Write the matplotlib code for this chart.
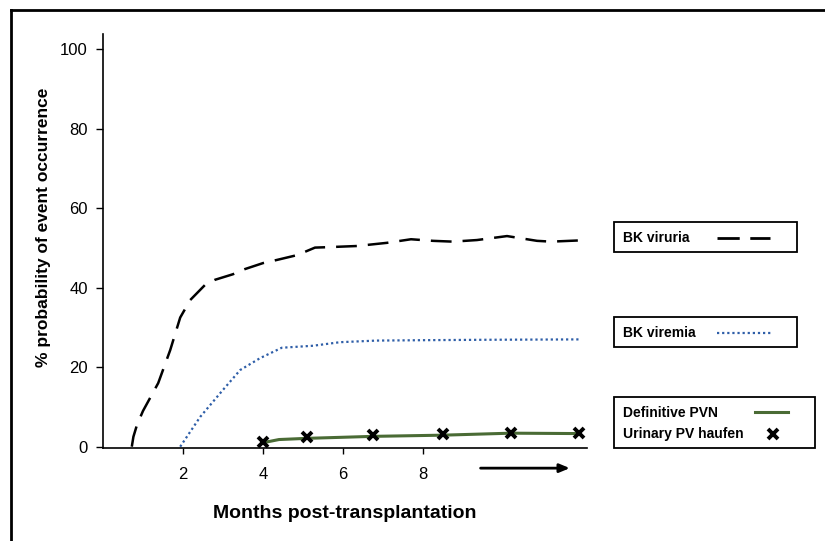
import matplotlib
matplotlib.use("Agg")
import matplotlib.pyplot as plt
from matplotlib.lines import Line2D
from matplotlib.patches import Rectangle

plt.rcParams["font.family"] = ["Liberation Sans", "DejaVu Sans"]

# BK viruria (dashed black)
viruria_x = [0.72, 0.76, 0.85, 1.0, 1.38, 1.68, 1.93, 2.18, 2.55, 2.8, 3.25, 3.55,
             4.0, 4.35, 4.85, 5.3, 5.6, 6.35, 7.1, 7.7, 8.25, 8.75, 9.35, 10.1,
             10.85, 11.2, 11.9]
viruria_y = [0.0, 2.5, 5.5, 9.0, 16.0, 24.3, 32.5, 36.9, 40.7, 42.0, 43.4, 44.7,
             46.2, 47.0, 48.2, 50.1, 50.2, 50.5, 51.3, 52.2, 51.8, 51.6, 52.0, 53.0,
             51.8, 51.6, 51.9]

# BK viremia (dotted blue)
viremia_x = [1.93, 2.43, 3.0, 3.43, 3.93, 4.47, 5.25, 5.93, 6.84, 8.0, 9.5, 11.93]
viremia_y = [0.0, 7.5, 14.3, 19.3, 22.3, 24.9, 25.4, 26.3, 26.7, 26.8, 26.9, 27.0]

# Definitive PVN (green line)
pvn_x = [4.0, 4.4, 5.1, 6.76, 8.5, 10.2, 11.9]
pvn_y = [1.0, 1.8, 2.1, 2.6, 2.9, 3.4, 3.3]

# Urinary PV haufen (x markers)
haufen_x = [4.0, 5.1, 6.76, 8.5, 10.2, 11.9]
haufen_y = [1.1, 2.4, 2.9, 3.1, 3.5, 3.5]

yticks = [0, 20, 40, 60, 80, 100]
xticks = [2, 4, 6, 8]

W, H = 825, 541
fig = plt.figure(figsize=(W / 100, H / 100), dpi=100)
ax = fig.add_axes([103 / W, 1 - 448 / H, (587 - 103) / W, (448 - 34) / H])

ax.plot(viruria_x, viruria_y, color="black", lw=1.8, ls=(0, (8.3, 4.4)))
ax.plot(viremia_x, viremia_y, color="#2e5ea8", lw=1.6, ls=(0, (1, 1.3)))
ax.plot(pvn_x, pvn_y, color="#4a6b35", lw=2.2)
ax.plot(haufen_x, haufen_y, ls="none", marker="x", color="black", ms=6.5, mew=2.8)

ax.set_xlim(0, 12.1)
ax.set_ylim(-0.33, 103.85)
ax.set_xticks(xticks)
ax.set_yticks(yticks)
ax.tick_params(axis="y", length=5, width=1, pad=6, labelsize=12)
ax.tick_params(axis="x", length=4, width=1, pad=10, labelsize=12)
for s in ["top", "right"]:
    ax.spines[s].set_visible(False)
for s in ["left", "bottom"]:
    ax.spines[s].set_linewidth(1.2)

ax.set_xlabel("Months post-transplantation", fontsize=14, fontweight="bold",
              va="center")
ax.xaxis.set_label_coords(0.5, (448 - 513) / 414)
ax.set_ylabel("% probability of event occurrence", fontsize=12.5, fontweight="bold",
              va="center")
ax.yaxis.set_label_coords((44 - 103) / 484, (448 - 227) / 414)

ax.annotate("", xy=(11.74, -5.4), xytext=(9.37, -5.4), annotation_clip=False,
            arrowprops=dict(arrowstyle="-|>,head_length=0.6,head_width=0.25",
                            color="black", lw=2))


def fx(x):
    return x / W


def fy(y):
    return 1 - y / H


def box(x0, y0, x1, y1):
    fig.add_artist(Rectangle((fx(x0), fy(y1)), fx(x1) - fx(x0), fy(y0) - fy(y1),
                             transform=fig.transFigure, fill=False,
                             edgecolor="black", lw=1.3))


def label(x, y, s):
    fig.text(fx(x), fy(y), s, fontsize=10, fontweight="bold", va="center", ha="left")


box(614, 222, 797, 252)
label(623, 238, "BK viruria")
fig.add_artist(Line2D([fx(717), fx(770)], [fy(238), fy(238)], color="black",
                      lw=2, ls=(0, (8, 3.8)), transform=fig.transFigure))

box(614, 317, 797, 347)
label(623, 333, "BK viremia")
fig.add_artist(Line2D([fx(717), fx(773)], [fy(333), fy(333)], color="#2e5ea8",
                      lw=1.6, ls=(0, (1, 1.3)), transform=fig.transFigure))

box(614, 397, 815, 448)
label(623, 413, "Definitive PVN")
label(623, 434, "Urinary PV haufen")
fig.add_artist(Line2D([fx(755), fx(788)], [fy(412), fy(412)], color="#4a6b35",
                      lw=2.2, transform=fig.transFigure))
fig.add_artist(Line2D([fx(773)], [fy(434)], ls="none", marker="x", color="black",
                      ms=6.5, mew=2.8, transform=fig.transFigure))

# outer frame (top and left only)
fig.add_artist(Line2D([fx(11), 1], [fy(10), fy(10)], color="black", lw=2,
                      transform=fig.transFigure))
fig.add_artist(Line2D([fx(11), fx(11)], [fy(10), 0], color="black", lw=2,
                      transform=fig.transFigure))

fig.savefig("out.png", dpi=100)
